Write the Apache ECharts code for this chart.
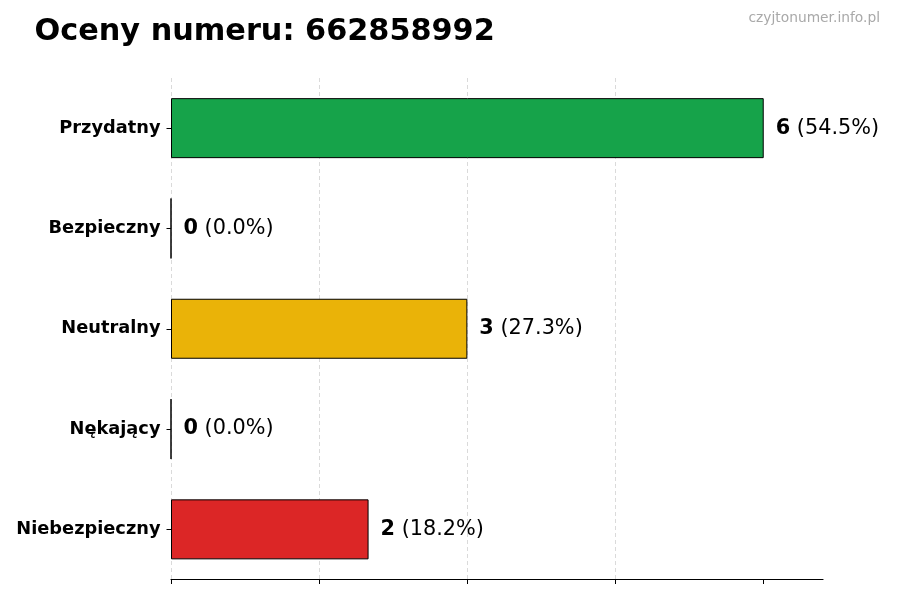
<!DOCTYPE html>
<html>
<head>
<meta charset="utf-8">
<script src="https://cdn.jsdelivr.net/npm/echarts@6/dist/echarts.min.js"></script>
<style>
html,body{margin:0;padding:0;background:#fff;}
#chart{width:900px;height:600px;}
</style>
</head>
<body>
<div id="chart"></div>
<script>
const titleText = 'Oceny numeru: 662858992';
const watermarkText = 'czyjtonumer.info.pl';
const categories = ['Przydatny', 'Bezpieczny', 'Neutralny', 'Nękający', 'Niebezpieczny'];
const counts = [6, 0, 3, 0, 2];
const barColors = ['#16a34a', '#16a34a', '#eab308', '#dc2626', '#dc2626'];
const gridTicks = [0, 1.5, 3, 4.5, 6];

const total = counts.reduce((a, b) => a + b, 0);
const FONT = "'DejaVu Sans', sans-serif";

const chart = echarts.init(document.getElementById('chart'), null, {renderer: 'canvas'});
chart.setOption({
  backgroundColor: '#ffffff',
  animation: false,
  grid: {left: 171, right: 77, top: 78, bottom: 20.5, containLabel: false},
  graphic: [
    {type: 'text', left: 34.5, top: 17.5,
     style: {text: titleText, fontFamily: FONT, fontSize: 30.3, fontWeight: 'bold', fill: '#000'}},
    {type: 'text', right: 20, top: 11,
     style: {text: watermarkText, fontFamily: FONT, fontSize: 13.8, fill: '#a9a9a9'}}
  ],
  xAxis: {
    type: 'value', min: 0, max: 6.6, interval: 1.5,
    axisLine: {show: true, lineStyle: {color: '#000', width: 1.2}},
    axisTick: {show: true, length: 4.5, customValues: gridTicks, lineStyle: {color: '#000', width: 1}},
    axisLabel: {show: false},
    splitLine: {show: true, showMaxLine: false,
      lineStyle: {type: [4, 3], width: 0.8, color: ['#d0d0d0','#d0d0d0','#d0d0d0','#d0d0d0','#d0d0d0','rgba(0,0,0,0)']}}
  },
  yAxis: {
    type: 'category', data: categories, inverse: true,
    axisLine: {show: false},
    axisTick: {show: true, alignWithLabel: true, length: 4.5, lineStyle: {color: '#000', width: 1}},
    axisLabel: {margin: 10.5, fontFamily: FONT, fontSize: 17.8, fontWeight: 'bold', color: '#000'},
    splitLine: {show: false}
  },
  series: [{
    type: 'bar',
    barWidth: 60,
    data: counts.map((v, i) => ({value: v, itemStyle: {color: barColors[i]}})),
    itemStyle: {borderColor: '#000', borderWidth: 1, opacity: 1},
    label: {
      show: true, position: 'right', distance: 12,
      formatter: p => '{b|' + p.value + '}{n| (' + (p.value / total * 100).toFixed(1) + '%)}',
      rich: {
        b: {fontFamily: FONT, fontSize: 20.8, fontWeight: 'bold', color: '#000'},
        n: {fontFamily: FONT, fontSize: 20.8, color: '#000'}
      }
    }
  }]
});
</script>
</body>
</html>
